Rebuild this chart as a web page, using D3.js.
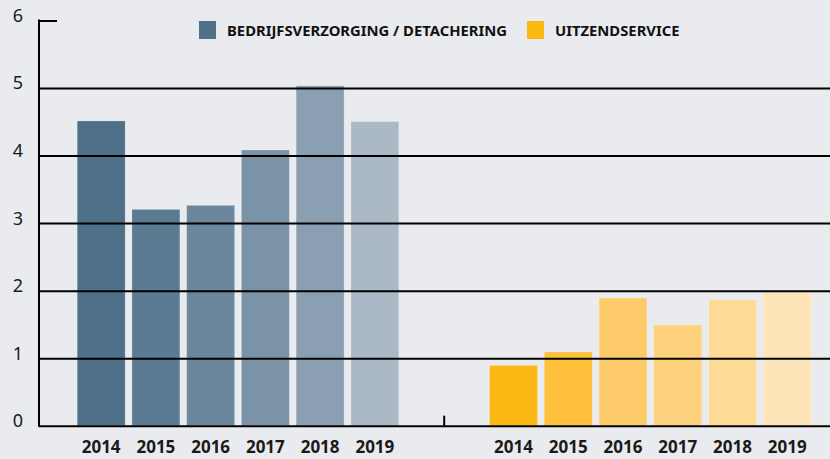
<!DOCTYPE html>
<html>
<head>
<meta charset="utf-8">
<script src="https://cdn.jsdelivr.net/npm/d3@7"></script>
<style>
  html, body { margin: 0; padding: 0; background: #eaebef; }
  svg { display: block; font-family: "Noto Sans", sans-serif; }
</style>
</head>
<body>
<div id="chart"></div>
<script>
  // data
  const groups = ["BEDRIJFSVERZORGING / DETACHERING", "UITZENDSERVICE"];
  const years = ["2014", "2015", "2016", "2017", "2018", "2019"];
  const bedrijfsValues = [4.52, 3.21, 3.27, 4.09, 5.04, 4.51];
  const uitzendValues = [0.9, 1.1, 1.9, 1.5, 1.87, 1.99];
  const yTicks = [0, 1, 2, 3, 4, 5, 6];

  // one shade per year, dark to light
  const bedrijfsColors = ["#4e7089", "#5b7b93", "#6a879d", "#7a93a7", "#8b9fb3", "#abb8c6"];
  const uitzendColors = ["#fdb913", "#fec03a", "#fecb6a", "#fed27c", "#fedb96", "#fee5b9"];

  const W = 830, H = 459;
  const axisX = 39;

  const svg = d3.select("#chart").append("svg")
    .attr("width", W)
    .attr("height", H);

  svg.append("rect")
    .attr("width", W)
    .attr("height", H)
    .attr("fill", "#eaebef");

  const y = d3.scaleLinear().domain([0, 6]).range([425.7, 20.5]);

  const x0 = d3.scaleBand()
    .domain(groups)
    .range([76.7, 811.7])
    .paddingInner(0.2176)
    .paddingOuter(0);

  const x1 = d3.scaleBand()
    .domain(years)
    .range([0, x0.bandwidth()])
    .paddingInner(0.106)
    .paddingOuter(0);

  const series = [
    { group: groups[0], values: bedrijfsValues, colors: bedrijfsColors },
    { group: groups[1], values: uitzendValues, colors: uitzendColors },
  ];

  // bars
  const g = svg.selectAll(".grp")
    .data(series)
    .enter()
    .append("g")
    .attr("class", "grp")
    .attr("transform", (d) => `translate(${x0(d.group)},0)`);

  g.selectAll("rect")
    .data((d) => d.values.map((v, i) => ({ year: years[i], value: v, color: d.colors[i] })))
    .enter()
    .append("rect")
    .attr("x", (d) => x1(d.year) + 0.5)
    .attr("y", (d) => y(d.value) + 0.5)
    .attr("width", x1.bandwidth() - 1)
    .attr("height", (d) => y(0) - y(d.value) - 0.5)
    .attr("fill", (d) => d.color)
    .attr("stroke", "#ffffff")
    .attr("stroke-opacity", 0.22)
    .attr("stroke-width", 1);

  // year labels
  g.selectAll(".yr")
    .data(years)
    .enter()
    .append("text")
    .attr("class", "yr")
    .attr("x", (d) => x1(d) + x1.bandwidth() / 2)
    .attr("y", 453)
    .attr("text-anchor", "middle")
    .attr("font-size", 17)
    .attr("font-weight", 700)
    .attr("fill", "#1a1a1a")
    .text((d) => d);

  // y axis with grid lines drawn over the bars
  const yAxis = svg.append("g")
    .attr("transform", `translate(${axisX},0)`)
    .call(d3.axisLeft(y)
      .tickValues(yTicks)
      .tickSize(-(W - axisX))
      .tickPadding(17)
      .tickFormat(d3.format("d")));

  yAxis.select(".domain").remove();
  yAxis.selectAll(".tick line")
    .attr("stroke", "#000")
    .attr("stroke-width", 2)
    .filter((d) => d === 6)
    .attr("x2", 18);
  yAxis.selectAll(".tick text")
    .attr("font-family", "Noto Sans, sans-serif")
    .attr("font-size", 18)
    .attr("fill", "#1a1a1a")
    .attr("text-anchor", "middle")
    .attr("x", -21)
    .attr("dy", "0.05em");

  svg.append("line")
    .attr("x1", axisX)
    .attr("x2", axisX)
    .attr("y1", y(6) - 1)
    .attr("y2", y(0) + 1)
    .attr("stroke", "#000")
    .attr("stroke-width", 2);

  // small separator tick between the two groups
  const sepX = (x0(groups[0]) + x0.bandwidth() + x0(groups[1])) / 2;
  svg.append("line")
    .attr("x1", sepX)
    .attr("x2", sepX)
    .attr("y1", y(0) - 10)
    .attr("y2", y(0))
    .attr("stroke", "#000")
    .attr("stroke-width", 2);

  // legend
  const legendX = [199, 527];
  const legend = svg.selectAll(".leg")
    .data(series)
    .enter()
    .append("g")
    .attr("class", "leg")
    .attr("transform", (d, i) => `translate(${legendX[i]},21)`);

  legend.append("rect")
    .attr("width", 17)
    .attr("height", 18)
    .attr("fill", (d) => d.colors[0]);

  legend.append("text")
    .attr("x", 28)
    .attr("y", 14.5)
    .attr("font-size", 14.8)
    .attr("font-weight", 700)
    .attr("fill", "#111")
    .text((d) => d.group);
</script>
</body>
</html>
